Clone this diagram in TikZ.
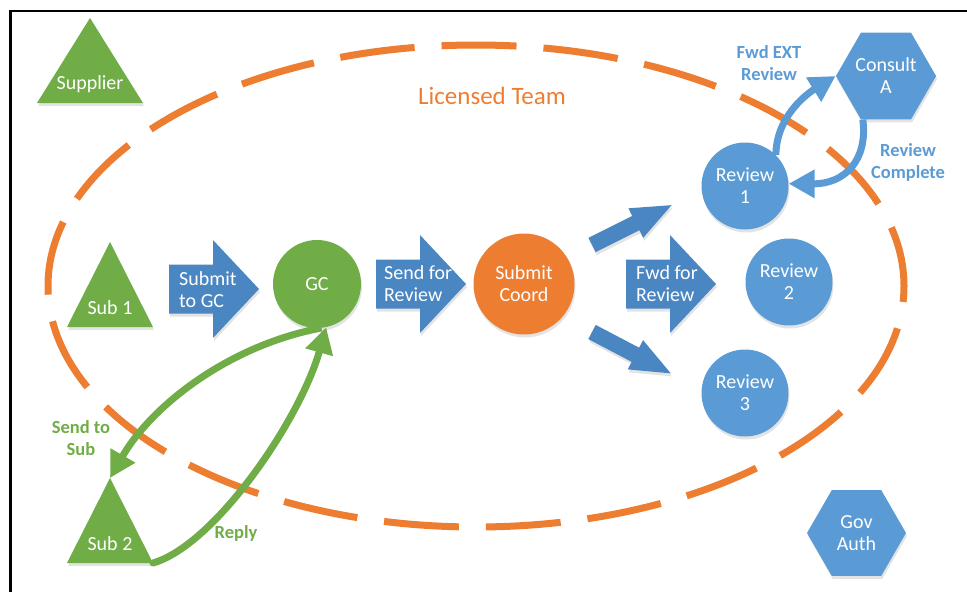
\documentclass[tikz,border=0pt]{standalone}
\usepackage{fontspec}
\setmainfont{Carlito}
\usetikzlibrary{shapes.geometric,arrows.meta,shadows}
\definecolor{accgreen}{HTML}{70AD47}
\definecolor{accorange}{HTML}{ED7D31}
\definecolor{accblue}{HTML}{5B9BD5}
\definecolor{arrowblue}{HTML}{4A86C1}
\newcommand{\trinode}[5]{%
	\fill[accgreen, shadowed] (#2,#3) -- (#2-#4,#3+85) -- (#2+#4,#3+85) -- cycle;
	\coordinate (#1-top) at (#2,#3);
	\coordinate (#1-corner) at (#2+#4,#3+85);
	\node (#1) at (#2,#3+66) {#5};
}
\begin{document}
\begin{tikzpicture}[
		x=1pt, y=-1pt,
		shadowed/.style={drop shadow={shadow xshift=1pt, shadow yshift=-3pt, opacity=0.22}},
		every node/.style={font=\fontsize{20}{22}\selectfont, text=white, align=center, inner sep=0pt},
		review/.style={circle, fill=accblue, minimum size=87pt, shadowed},
		hexa/.style={regular polygon, regular polygon sides=6, fill=accblue, minimum size=99pt, shadowed},
		tag/.style={font=\bfseries\fontsize{18.5}{22}\selectfont},
		flow/.style={line width=7pt, -{Triangle[length=26pt,width=27pt]}},
		bigarrow/.pic={\fill[arrowblue, shadowed] (0,-24.5) -- (44,-24.5) -- (44,-49) -- (90,0) -- (44,49) -- (44,24.5) -- (0,24.5) -- cycle;},
		smallarrow/.pic={\fill[arrowblue, shadowed] (0,-8) -- (49,-8) -- (49,-16.5) -- (89,0) -- (49,16.5) -- (49,8) -- (0,8) -- cycle;}
		]
		\useasboundingbox (0,0) rectangle (967,592);
		\draw[line width=2.2pt] (967,11) -- (10.5,11) -- (10.5,592);
		\draw[accorange, line width=7pt, dash pattern=on 75pt off 27pt, dash phase=59pt] (476,286) ellipse [x radius=428, y radius=241];
		\node[text=accorange, font=\fontsize{25}{30}\selectfont] (team) at (492,96) {Licensed Team};
		\trinode{supplier}{90}{18}{53}{Supplier}
		\trinode{sub1}{110}{242}{43}{Sub 1}
		\trinode{sub2}{110}{478}{43}{Sub 2}
		\pic at (169,289) {bigarrow};
		\node[anchor=west, align=left] (togc) at (179,290) {Submit\\to GC};
		\node[circle, fill=accgreen, minimum size=88pt, shadowed] (gc) at (317,284) {GC};
		\pic at (376,284) {bigarrow};
		\node[anchor=west, align=left] (sendrev) at (384,284) {Send for\\Review};
		\node[circle, fill=accorange, minimum size=101pt, shadowed] (coord) at (524,284) {Submit\\Coord};
		\pic[rotate=26.6] at (592,245) {smallarrow};
		\pic[rotate=-27.7] at (592,332) {smallarrow};
		\pic at (626,284) {bigarrow};
		\node[anchor=west, align=left] (fwdrev) at (636,284) {Fwd for\\Review};
		\node[review] (review1) at (745,186) {Review\\1};
		\node[review] (review2) at (789,282) {Review\\2};
		\node[review] (review3) at (745,393) {Review\\3};
		\node[hexa] (consult) at (886,76) {Consult\\A};
		\node[hexa] (gov) at (856.5,533) {Gov\\Auth};
		\draw[flow, accblue] (review1.45) .. controls (776,118) and (805,95) .. (consult.180);
		\draw[flow, accblue] (consult.-118) .. controls (868,160) and (845,184) .. (review1.3);
		\node[tag, text=accblue] (fwdext) at (769,63) {Fwd EXT\\Review};
		\node[tag, text=accblue] (complete) at (908,162) {Review\\Complete};
		\draw[flow, accgreen] (gc.-84) .. controls (230,345) and (152,405) .. (sub2-top);
		\draw[flow, accgreen, line cap=round] (sub2-corner) .. controls (215,545) and (300,420) .. (gc.-78);
		\node[tag, text=accgreen] (tosub) at (81,438) {Send to\\Sub};
		\node[tag, text=accgreen] (reply) at (236,533) {Reply};
\end{tikzpicture}
\end{document}
